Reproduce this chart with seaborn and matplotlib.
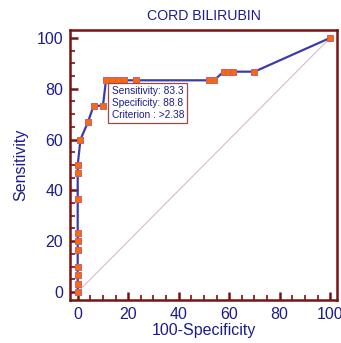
import matplotlib
matplotlib.use("Agg")
import matplotlib.pyplot as plt
import seaborn as sns
import pandas as pd
from matplotlib.ticker import MultipleLocator

# ROC points
fpr = [0, 0, 0, 0, 0, 0, 0, 0, 0, 0, 1.1, 4.0, 6.3, 10.0, 11.2, 13.5, 16.0, 18.5, 23.0,
       52.2, 54.0, 57.8, 59.6, 61.4, 70.0, 100.0]
tpr = [0, 3.3, 6.7, 10.0, 16.7, 20.0, 23.3, 36.7, 46.7, 50.0, 60.0, 66.7, 73.3, 73.3,
       83.3, 83.3, 83.3, 83.3, 83.3, 83.3, 83.3, 86.7, 86.7, 86.7, 86.7, 100.0]
diag_x = [0, 100]
diag_y = [0, 100]
crit_x, crit_y = 11.2, 83.3
crit_text = "Sensitivity: 83.3\nSpecificity: 88.8\nCriterion : >2.38"
title = "CORD BILIRUBIN"
xlabel = "100-Specificity"
ylabel = "Sensitivity"
ticks = [0, 20, 40, 60, 80, 100]

sns.set_style("white")
plt.rcParams['font.family'] = ['Liberation Sans', 'DejaVu Sans']

navy = "#1c1c8c"
maroon = "#7a1212"

fig = plt.figure(figsize=(3.41, 3.43), dpi=100)
ax = fig.add_axes([70/341, 43/343, 267/341, 270/343])

df = pd.DataFrame({"x": fpr, "y": tpr})
ax.plot(diag_x, diag_y, color="#d6bcc4", lw=0.8, zorder=1)
sns.lineplot(data=df, x="x", y="y", sort=False, estimator=None, ax=ax,
             color="#3c3ca8", lw=1.6, marker="s", markersize=4.8,
             markerfacecolor="#ff6a00", markeredgecolor="#c06080",
             markeredgewidth=0.7, zorder=3)

ax.set_xlim(-3.05, 102.7)
ax.set_ylim(-3.15, 103.1)
ax.xaxis.set_minor_locator(MultipleLocator(5))
ax.yaxis.set_minor_locator(MultipleLocator(5))
ax.set_xticks(ticks)
ax.set_yticks(ticks)
ax.tick_params(which="major", direction="in", length=6, width=1.8, color=maroon,
               labelcolor=navy, labelsize=11.5, pad=5, bottom=True, left=True)
ax.tick_params(which="minor", direction="in", length=3.5, width=1.2, color=maroon,
               bottom=True, left=True)
for s in ax.spines.values():
    s.set_color(maroon)
    s.set_linewidth(1.8)

ax.set_xlabel(xlabel, color=navy, fontsize=11.5, labelpad=1)
ax.set_ylabel(ylabel, color=navy, fontsize=11.5, labelpad=6)
ax.set_title(title, color=navy, fontsize=10.2, pad=7)

ax.annotate(crit_text, xy=(crit_x, crit_y), xytext=(4, -4), textcoords="offset points",
            ha="left", va="top", fontsize=7.3, color=navy, linespacing=1.25,
            bbox=dict(boxstyle="square,pad=0.3", fc="white", ec="#a04848", lw=0.9),
            zorder=5)

fig.savefig("out.png", dpi=100)
